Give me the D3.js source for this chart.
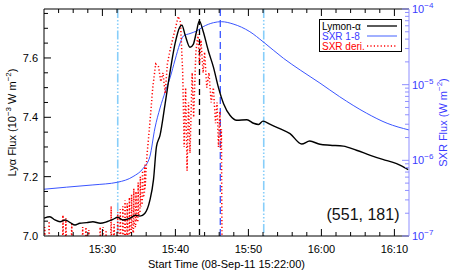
<!DOCTYPE html>
<html>
<head>
<meta charset="utf-8">
<script src="https://cdn.jsdelivr.net/npm/d3@7"></script>
<style>
  body { margin: 0; background: #fff; }
  svg { display: block; font-family: "Liberation Sans", Arial, sans-serif; }
</style>
</head>
<body>
<svg id="chart" width="456" height="273"></svg>
<script>
// minutes after 15:22:00 and value
var lyaPoints = [
  [0.0,7.060],[0.8,7.065],[1.5,7.054],[2.2,7.048],[2.9,7.054],[3.6,7.045],[4.25,7.037],
  [4.9,7.043],[5.85,7.045],[6.7,7.048],[7.7,7.043],[8.6,7.048],[9.45,7.056],[10.1,7.063],
  [10.8,7.054],[11.8,7.060],[12.5,7.070],[13.15,7.067],[13.8,7.076],[14.5,7.12],[15.0,7.19],
  [15.4,7.30],[15.9,7.34],[16.6,7.447],[17.3,7.558],[17.95,7.648],[18.6,7.704],[18.9,7.71],
  [19.3,7.68],[20.0,7.636],[20.45,7.646],[20.9,7.69],[21.27,7.725],[21.8,7.69],[22.5,7.625],
  [23.2,7.57],[23.9,7.50],[24.6,7.446],[25.5,7.406],[26.4,7.39],[27.8,7.392],[28.7,7.38],
  [29.4,7.376],[30.0,7.387],[31.0,7.376],[32.3,7.362],[33.7,7.345],[35.3,7.31],[36.4,7.32],
  [37.8,7.309],[39.2,7.306],[41.0,7.303],[42.8,7.289],[44.7,7.272],[46.4,7.258],[48.3,7.244],
  [49.9,7.224]
];
var sxrPoints = [
  [0.0,4.15e-7],[3.1,4.42e-7],[6.7,4.73e-7],[10.1,5.14e-7],[12.2,6.10e-7],[13.6,7.87e-7],
  [14.5,1.12e-6],[15.2,2.68e-6],[15.9,4.92e-6],[16.6,8.0e-6],[17.3,1.26e-5],[17.95,2.12e-5],
  [18.6,3.45e-5],[19.1,4.40e-5],[20.0,4.74e-5],[20.9,5.12e-5],[21.8,5.83e-5],[23.2,6.59e-5],
  [24.3,6.80e-5],[25.9,6.34e-5],[28.2,5.01e-5],[30.0,3.70e-5],[32.8,2.23e-5],[35.1,1.56e-5],
  [37.8,1.05e-5],[40.5,6.93e-6],[44.2,4.19e-6],[47.0,3.09e-6],[50.0,2.52e-6]
];
var derPoints = [
  [0.0,6.96],[0.05,6.98],[0.1,7.03],[0.15,6.98],[0.65,6.98],[0.7,7.05],[0.75,6.98],[1.6,6.96],
  [2.55,6.98],[2.6,7.07],[2.65,6.98],[2.95,6.98],[3.0,7.06],[3.05,6.98],[3.75,6.98],[3.8,7.04],
  [3.85,6.98],[4.7,6.96],[5.25,6.98],[5.3,7.03],[5.35,6.98],[5.7,6.98],[5.75,7.03],[5.8,6.98],
  [6.1,6.98],[6.15,7.02],[6.2,6.98],[7.0,6.96],[7.65,6.98],[7.7,7.03],[7.75,6.98],[8.05,6.98],
  [8.1,7.03],[8.15,6.98],[8.45,6.98],[8.5,7.02],[8.55,6.98],[9.15,6.98],[9.2,7.10],[9.25,6.98],
  [9.55,6.98],[9.6,7.04],[9.65,6.98],[10.05,6.98],[10.1,7.08],[10.15,6.99],[10.4,6.99],
  [10.45,7.09],[10.5,6.99],[10.75,6.99],[10.8,7.10],[10.85,7.00],[11.05,6.99],[11.1,7.12],
  [11.15,7.01],[11.35,6.99],[11.4,7.11],[11.45,7.00],[11.65,6.99],[11.7,7.13],[11.75,7.02],
  [11.95,7.00],[12.0,7.14],[12.05,7.03],[12.25,7.01],[12.3,7.16],[12.35,7.04],[12.55,7.03],
  [12.6,7.15],[12.65,7.05],[12.85,7.05],[12.9,7.18],[12.95,7.07],[13.15,7.08],[13.2,7.20],
  [13.25,7.10],[13.45,7.11],[13.5,7.22],[13.55,7.13],[13.75,7.14],[13.8,7.24],[13.85,7.16],
  [14.1,7.27],[14.5,7.38],[14.9,7.50],[15.3,7.58],[15.7,7.57],[16.0,7.52],[16.3,7.55],
  [16.6,7.48],[16.9,7.58],[17.3,7.63],[17.6,7.66],[18.0,7.70],[18.4,7.74],[18.7,7.72],
  [19.0,7.55],[19.2,7.30],[19.4,7.50],[19.6,7.22],[19.8,7.45],[20.0,7.28],[20.3,7.55],
  [20.5,7.40],[20.8,7.62],[21.1,7.68],[21.3,7.58],[21.5,7.66],[21.8,7.55],[22.0,7.62],
  [22.3,7.50],[22.6,7.55],[22.9,7.45],[23.2,7.50],[23.5,7.38],[23.7,7.45],[23.9,7.30],
  [24.1,7.42],[24.2,7.29],[24.3,7.36],[24.4,6.90]
];
var markerMinutes = [10.1, 21.3, 24.15, 30.1];
var markerKinds = ['ltblue', 'black', 'blue', 'ltblue'];
var xTickLabels = ['15:30', '15:40', '15:50', '16:00', '16:10'];
var leftTickValues = [7.0, 7.2, 7.4, 7.6];
var rightTickExponents = [-7, -6, -5, -4];
var legendLabels = ['Lymon-\u03b1', 'SXR 1-8', 'SXR deri.'];
var pixelLabel = '(551, 181)';

var m = {left: 44, right: 409, top: 9, bottom: 236};
var BLUE = '#3a55ff', LTBLUE = '#87cefa', AXBLUE = '#8f8fff', TXBLUE = '#3b3bff';

var svg = d3.select('#chart');
var t0 = Date.UTC(2011, 8, 8, 15, 22, 0);
function toDate(mn) { return new Date(t0 + mn * 60000); }

var x = d3.scaleUtc().domain([toDate(0), toDate(50)]).range([m.left, m.right]);
var yL = d3.scaleLinear().domain([7.0, 7.765]).range([m.bottom, m.top]);
var yR = d3.scaleLog().domain([1e-7, 1e-4]).range([m.bottom, m.top]);

svg.append('clipPath').attr('id', 'clip')
  .append('rect')
  .attr('x', m.left).attr('y', m.top)
  .attr('width', m.right - m.left).attr('height', m.bottom - m.top);

var plot = svg.append('g').attr('clip-path', 'url(#clip)');

// vertical markers
var markerStyle = {
  ltblue: {stroke: LTBLUE, dash: '9,2,1.5,2,1.5,2,1.5,2', width: 1.6},
  black: {stroke: '#000', dash: '6,4', width: 1.3},
  blue: {stroke: BLUE, dash: '7,4', width: 1.3}
};
plot.selectAll('line.marker')
  .data(markerMinutes)
  .enter().append('line')
  .attr('class', 'marker')
  .attr('x1', function(d) { return x(toDate(d)); })
  .attr('x2', function(d) { return x(toDate(d)); })
  .attr('y1', m.top).attr('y2', m.bottom)
  .attr('stroke', function(d, i) { return markerStyle[markerKinds[i]].stroke; })
  .attr('stroke-width', function(d, i) { return markerStyle[markerKinds[i]].width; })
  .attr('stroke-dasharray', function(d, i) { return markerStyle[markerKinds[i]].dash; });

var sxrLine = d3.line()
  .x(function(d) { return x(toDate(d[0])); })
  .y(function(d) { return yR(d[1]); })
  .curve(d3.curveMonotoneX);
plot.append('path').datum(sxrPoints)
  .attr('d', sxrLine).attr('fill', 'none')
  .attr('stroke', BLUE).attr('stroke-width', 1);

var derLine = d3.line()
  .x(function(d) { return x(toDate(d[0])); })
  .y(function(d) { return yL(d[1]); });
plot.append('path').datum(derPoints)
  .attr('d', derLine).attr('fill', 'none')
  .attr('stroke', '#ff0000').attr('stroke-width', 1.5)
  .attr('stroke-dasharray', '1.2,2.2');

var lyaLine = d3.line()
  .x(function(d) { return x(toDate(d[0])); })
  .y(function(d) { return yL(d[1]); })
  .curve(d3.curveMonotoneX);
plot.append('path').datum(lyaPoints)
  .attr('d', lyaLine).attr('fill', 'none')
  .attr('stroke', '#000').attr('stroke-width', 1.4);

// axes (IDL-style inward ticks)
var ax = svg.append('g').attr('stroke-width', 1);
ax.append('line').attr('x1', m.left).attr('x2', m.right).attr('y1', m.bottom).attr('y2', m.bottom).attr('stroke', '#000');
ax.append('line').attr('x1', m.left).attr('x2', m.right).attr('y1', m.top).attr('y2', m.top).attr('stroke', '#000');
ax.append('line').attr('x1', m.left).attr('x2', m.left).attr('y1', m.top).attr('y2', m.bottom).attr('stroke', '#000');
ax.append('line').attr('x1', m.right).attr('x2', m.right).attr('y1', m.top).attr('y2', m.bottom).attr('stroke', AXBLUE);

var xMinor = d3.range(2, 50, 2);
xMinor.forEach(function(mn) {
  var px = x(toDate(mn));
  var len = (mn + 22) % 10 === 0 ? 7 : 4;
  ax.append('line').attr('x1', px).attr('x2', px).attr('y1', m.bottom).attr('y2', m.bottom - len).attr('stroke', '#000');
  ax.append('line').attr('x1', px).attr('x2', px).attr('y1', m.top).attr('y2', m.top + len).attr('stroke', '#000');
});
svg.selectAll('text.xtick')
  .data(xTickLabels)
  .enter().append('text')
  .attr('class', 'xtick')
  .attr('x', function(d, i) { return x(toDate(8 + i * 10)); })
  .attr('y', 253)
  .attr('text-anchor', 'middle')
  .attr('font-size', 11)
  .text(function(d) { return d; });

d3.range(7.05, 7.76, 0.05).forEach(function(v) {
  var py = yL(v);
  var major = Math.abs(Math.round(v * 100) % 20) < 1;
  ax.append('line').attr('x1', m.left).attr('x2', m.left + (major ? 7 : 4)).attr('y1', py).attr('y2', py).attr('stroke', '#000');
});
svg.selectAll('text.ytick')
  .data(leftTickValues)
  .enter().append('text')
  .attr('class', 'ytick')
  .attr('x', 38)
  .attr('y', function(d) { return yL(d) + 4; })
  .attr('text-anchor', 'end')
  .attr('font-size', 11)
  .text(function(d) { return d.toFixed(1); });

rightTickExponents.forEach(function(e, i) {
  if (i < rightTickExponents.length - 1) {
    d3.range(2, 10).forEach(function(k) {
      var py = yR(k * Math.pow(10, e));
      ax.append('line').attr('x1', m.right).attr('x2', m.right - 4).attr('y1', py).attr('y2', py).attr('stroke', AXBLUE);
    });
  }
  var py = yR(Math.pow(10, e));
  ax.append('line').attr('x1', m.right).attr('x2', m.right - 7).attr('y1', py).attr('y2', py).attr('stroke', AXBLUE);
  var t = svg.append('text').attr('x', 412).attr('y', py + 4).attr('font-size', 11).attr('fill', TXBLUE);
  t.append('tspan').text('10');
  t.append('tspan').attr('dy', -5).attr('font-size', 8).text('\u2212' + Math.abs(e));
});

// axis titles
svg.append('text')
  .attr('x', (m.left + m.right) / 2).attr('y', 268)
  .attr('text-anchor', 'middle').attr('font-size', 11)
  .text('Start Time (08-Sep-11 15:22:00)');

var lt = svg.append('text')
  .attr('transform', 'translate(16,' + ((m.top + m.bottom) / 2) + ') rotate(-90)')
  .attr('text-anchor', 'middle').attr('font-size', 11);
lt.append('tspan').text('Ly\u03b1 Flux (10');
lt.append('tspan').attr('dy', -5).attr('font-size', 8).text('\u22123');
lt.append('tspan').attr('dy', 5).text(' W m');
lt.append('tspan').attr('dy', -5).attr('font-size', 8).text('\u22122');
lt.append('tspan').attr('dy', 5).text(')');

var rt = svg.append('text')
  .attr('transform', 'translate(447,' + ((m.top + m.bottom) / 2) + ') rotate(-90)')
  .attr('text-anchor', 'middle').attr('font-size', 11).attr('fill', TXBLUE);
rt.append('tspan').text('SXR Flux (W m');
rt.append('tspan').attr('dy', -5).attr('font-size', 8).text('\u22122');
rt.append('tspan').attr('dy', 5).text(')');

// legend
var lg = svg.append('g');
lg.append('rect').attr('x', 319.5).attr('y', 19.5).attr('width', 82).attr('height', 32)
  .attr('fill', '#fff').attr('stroke', '#000').attr('stroke-width', 1);
var legendColors = ['#000', TXBLUE, '#ff0000'];
var legendStroke = ['#000', '#6f86ff', '#ff0000'];
legendLabels.forEach(function(lab, i) {
  var yy = 26 + i * 10;
  lg.append('text').attr('x', 322).attr('y', yy + 3.5).attr('font-size', 10)
    .attr('fill', legendColors[i]).text(lab);
  lg.append('line').attr('x1', 367).attr('x2', 397).attr('y1', yy).attr('y2', yy)
    .attr('stroke', legendStroke[i])
    .attr('stroke-width', i === 2 ? 1.5 : 1.3)
    .attr('stroke-dasharray', i === 2 ? '1.2,2.2' : null);
});

svg.append('text').attr('x', 363).attr('y', 220).attr('text-anchor', 'middle')
  .attr('font-size', 16).attr('fill', '#111').text(pixelLabel);
</script>
</body>
</html>
